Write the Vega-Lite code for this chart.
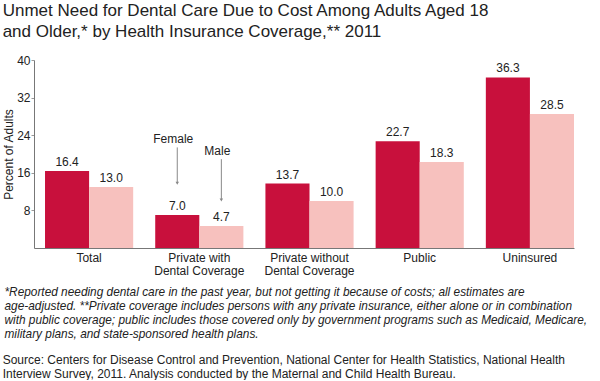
{
  "$schema": "https://vega.github.io/schema/vega-lite/v6.json",
  "padding": {"left": 2, "top": 2, "right": 0, "bottom": 0},
  "background": "white",
  "title": {
    "text": ["Unmet Need for Dental Care Due to Cost Among Adults Aged 18", "and Older,* by Health Insurance Coverage,** 2011"],
    "anchor": "start",
    "font": "Liberation Sans",
    "fontSize": 17,
    "fontWeight": "normal",
    "color": "#222222",
    "lineHeight": 21,
    "offset": 13
  },
  "datasets": {
    "bars": [
      {"category": "Total", "sex": "Female", "value": 16.4},
      {"category": "Total", "sex": "Male", "value": 13.0},
      {"category": "Private with|Dental Coverage", "sex": "Female", "value": 7.0},
      {"category": "Private with|Dental Coverage", "sex": "Male", "value": 4.7},
      {"category": "Private without|Dental Coverage", "sex": "Female", "value": 13.7},
      {"category": "Private without|Dental Coverage", "sex": "Male", "value": 10.0},
      {"category": "Public", "sex": "Female", "value": 22.7},
      {"category": "Public", "sex": "Male", "value": 18.3},
      {"category": "Uninsured", "sex": "Female", "value": 36.3},
      {"category": "Uninsured", "sex": "Male", "value": 28.5}
    ],
    "notes": [
      {"category": "Private with|Dental Coverage", "sex": "Female", "label": "Female", "ytext": 23.2, "ytop": 21.4, "ybottom": 13.8},
      {"category": "Private with|Dental Coverage", "sex": "Male", "label": "Male", "ytext": 20.7, "ytop": 18.9, "ybottom": 10.2}
    ]
  },
  "vconcat": [
    {
      "width": 540,
      "height": 188,
      "title": {
        "text": ["Source: Centers for Disease Control and Prevention, National Center for Health Statistics, National Health", "Interview Survey, 2011. Analysis conducted by the Maternal and Child Health Bureau."],
        "orient": "bottom",
        "anchor": "start",
        "font": "Liberation Sans",
        "fontSize": 12,
        "fontWeight": "normal",
        "color": "#222222",
        "lineHeight": 14,
        "offset": 15
      },
      "encoding": {
        "x": {
          "field": "category",
          "type": "nominal",
          "sort": ["Total", "Private with|Dental Coverage", "Private without|Dental Coverage", "Public", "Uninsured"],
          "scale": {"paddingInner": 0.2, "paddingOuter": 0.05, "align": 1},
          "axis": {
            "labelAngle": 0,
            "labelExpr": "split(datum.label, '|')",
            "labelFont": "Liberation Sans",
            "labelFontSize": 12,
            "labelColor": "#222222",
            "labelLineHeight": 13,
            "labelPadding": 4,
            "labelBaseline": "top",
            "ticks": false,
            "domainColor": "#777777",
            "title": ["*Reported needing dental care in the past year, but not getting it because of costs; all estimates are", "age-adjusted. **Private coverage includes persons with any private insurance, either alone or in combination", "with public coverage; public includes those covered only by government programs such as Medicaid, Medicare,", "military plans, and state-sponsored health plans."],
            "titleFont": "Liberation Sans",
            "titleFontSize": 11.85,
            "titleFontStyle": "italic",
            "titleFontWeight": "normal",
            "titleColor": "#222222",
            "titleLineHeight": 14,
            "titleAlign": "left",
            "titleBaseline": "top",
            "titleX": -30,
            "titleY": 38
          }
        }
      },
      "layer": [
        {
          "data": {"name": "bars"},
          "mark": {"type": "bar"},
          "encoding": {
            "xOffset": {"field": "sex", "type": "nominal", "sort": ["Female", "Male"]},
            "y": {
              "field": "value",
              "type": "quantitative",
              "scale": {"domain": [0, 40], "nice": false},
              "axis": {
                "values": [8, 16, 24, 32, 40],
                "grid": false,
                "title": "Percent of Adults",
                "titleFont": "Liberation Sans",
                "titleFontSize": 12,
                "titleFontWeight": "normal",
                "titleColor": "#222222",
                "titlePadding": 1,
                "labelFont": "Liberation Sans",
                "labelFontSize": 12,
                "labelColor": "#222222",
                "labelPadding": 1,
                "tickSize": 3,
                "tickColor": "#999999",
                "domainColor": "#777777"
              }
            },
            "color": {
              "field": "sex",
              "type": "nominal",
              "scale": {"domain": ["Female", "Male"], "range": ["#C8103C", "#F7C1BE"]},
              "legend": null
            }
          }
        },
        {
          "data": {"name": "bars"},
          "mark": {"type": "text", "baseline": "alphabetic", "dy": -5, "font": "Liberation Sans", "fontSize": 12, "color": "#222222"},
          "encoding": {
            "xOffset": {"field": "sex", "type": "nominal", "sort": ["Female", "Male"]},
            "y": {"field": "value", "type": "quantitative"},
            "text": {"field": "value", "type": "quantitative", "format": ".1f"}
          }
        },
        {
          "data": {"name": "notes"},
          "mark": {"type": "rule", "color": "#888888", "strokeWidth": 1, "xOffset": -4},
          "encoding": {
            "xOffset": {"field": "sex", "type": "nominal", "sort": ["Female", "Male"]},
            "y": {"field": "ytop", "type": "quantitative"},
            "y2": {"field": "ybottom"}
          }
        },
        {
          "data": {"name": "notes"},
          "mark": {"type": "point", "shape": "triangle-down", "filled": true, "size": 12, "color": "#888888", "opacity": 1, "xOffset": -4},
          "encoding": {
            "xOffset": {"field": "sex", "type": "nominal", "sort": ["Female", "Male"]},
            "y": {"field": "ybottom", "type": "quantitative"}
          }
        },
        {
          "data": {"name": "notes"},
          "mark": {"type": "text", "baseline": "middle", "font": "Liberation Sans", "fontSize": 12, "color": "#222222", "dx": -4},
          "encoding": {
            "xOffset": {"field": "sex", "type": "nominal", "sort": ["Female", "Male"]},
            "y": {"field": "ytext", "type": "quantitative"},
            "text": {"field": "label", "type": "nominal"}
          }
        }
      ]
    }
  ],
  "config": {
    "view": {"stroke": null},
    "axis": {"labelFont": "Liberation Sans", "titleFont": "Liberation Sans"}
  }
}
